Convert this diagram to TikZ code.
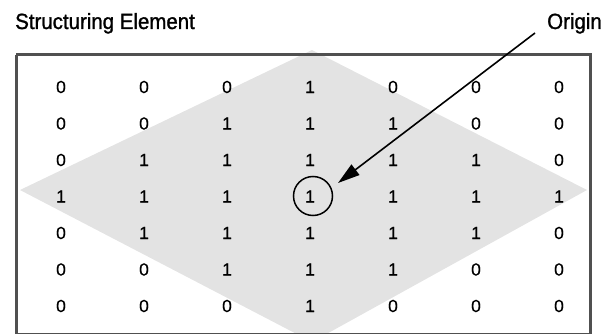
\documentclass[tikz,border=0pt]{standalone}
\usepackage{fontspec}
\setmainfont{Liberation Sans}
\newfontfamily\titlefont[FakeBold=1.2,FakeStretch=0.93]{Liberation Sans}
\newfontfamily\digitfont[FakeBold=0.6]{Liberation Sans}
\usetikzlibrary{arrows.meta}
\definecolor{diamondgray}{HTML}{E3E3E3}
\definecolor{framegray}{HTML}{505050}
\tikzset{
  digit/.style={font=\digitfont\fontsize{17.5}{19}\selectfont, inner sep=0pt, anchor=center},
  title/.style={font=\titlefont\fontsize{22}{24}\selectfont, inner sep=0pt, anchor=base west},
  frame/.style={draw=framegray, line width=3pt},
}
\begin{document}
\begin{tikzpicture}[x=1pt,y=-1pt]
\useasboundingbox (0,0) rectangle (603,334);
\begin{scope}
\clip (0,0) rectangle (603,334);
\fill[diamondgray] (312,50) -- (587,190) -- (312,342) -- (20,190) -- cycle;
\draw[frame] (16,55) -- (590,55) -- (590,336);
\draw[frame] (16,55) -- (16,336);
\draw[framegray, line width=1pt] (16,333) -- (590,333);
\end{scope}
\node[title] (title) at (15,29) {Structuring Element};
\node[title, anchor=base east] (origin) at (602,29) {Origin};
\foreach \row [count=\i from 0] in {
  {0,0,0,1,0,0,0},
  {0,0,1,1,1,0,0},
  {0,1,1,1,1,1,0},
  {1,1,1,1,1,1,1},
  {0,1,1,1,1,1,0},
  {0,0,1,1,1,0,0},
  {0,0,0,1,0,0,0}}{
  \foreach \v [count=\j from 0] in \row {
    \node[digit] (m-\i-\j) at ({61+83*\j},{87+36.5*\i}) {\v};
  }
}
\node[draw, circle, line width=1.5pt, minimum size=39pt, inner sep=0pt] (orig) at (313,196) {};
\coordinate (as) at (535,33);
\coordinate (tip) at (338,183);
\draw[line width=1.6pt, -{Triangle[length=22pt,width=13pt]}] (as) -- (tip);
\end{tikzpicture}
\end{document}
